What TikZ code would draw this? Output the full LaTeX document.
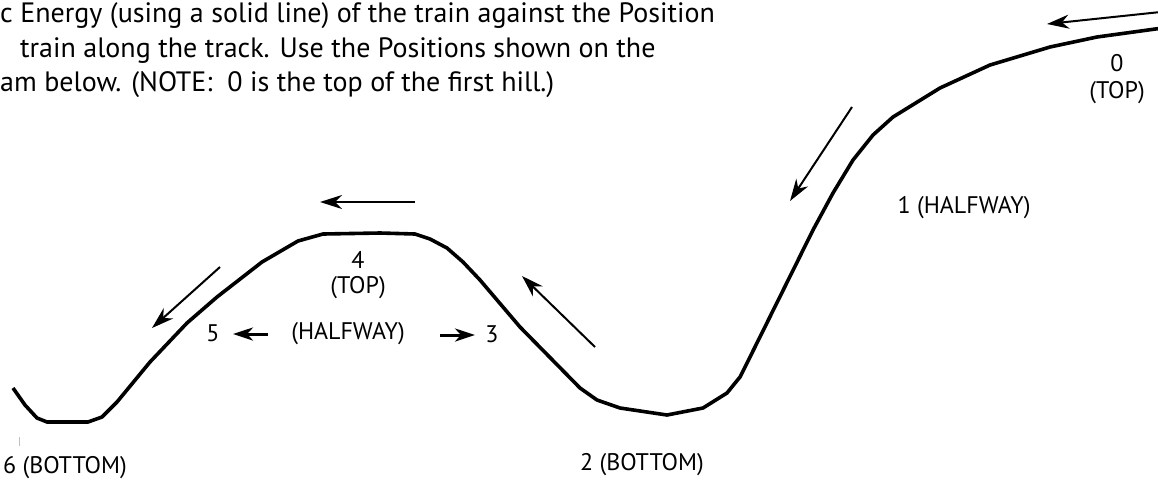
\documentclass[tikz,border=0pt]{standalone}
\usepackage{fontspec}
\setmainfont{PT Sans}
\usetikzlibrary{arrows.meta}
\begin{document}
\begin{tikzpicture}[x=1pt,y=-1pt,
  track/.style={line width=3.6pt,line join=round,line cap=butt},
  dirarrow/.style={line width=2pt,-{Stealth[length=22pt,width=14pt,inset=7pt]}},
  halfarrow/.style={line width=3pt,-{Stealth[length=20pt,width=13pt,inset=6pt]}},
  toptext/.style={inner sep=0pt,anchor=base west,font=\fontsize{28}{33}\selectfont},
  lbl/.style={inner sep=0pt,font=\fontsize{24}{28}\selectfont}]
\useasboundingbox (0,0) rectangle (1158,483);
\begin{scope}
\clip (0,0) rectangle (1158,483);
% instruction text
\node[toptext] (t1) at (0,22) {c Energy (using a solid line) of the train against the Position};
\node[toptext] (t2) at (20,57) {train along the track. Use the Positions shown on the};
\node[toptext] (t3) at (0,91) {am below. (NOTE:\ \ 0 is the top of the first hill.)};
% track
\draw[track] (13,388) -- (25,405) -- (37,418) -- (47,422) -- (88,422) -- (102,417) -- (117,402)
  -- (150,362) -- (187,323) -- (217,297) -- (262,262) -- (298,241) -- (323,234) -- (380,233)
  -- (415,234) -- (430,239) -- (447,248) -- (463,262) -- (480,280) -- (520,327) -- (580,388)
  -- (597,400) -- (620,408) -- (667,415) -- (703,408) -- (727,393) -- (740,377) -- (752,353)
  -- (813,230) -- (833,193) -- (853,160) -- (873,135) -- (893,117) -- (940,88) -- (990,65)
  -- (1050,47) -- (1097,37) -- (1170,27);
% direction arrows
\coordinate (a0s) at (1170,11); \coordinate (a0e) at (1047,24);
\coordinate (a1s) at (852,107); \coordinate (a1e) at (790,201);
\coordinate (a4s) at (415,202); \coordinate (a4e) at (320,202);
\coordinate (a3s) at (595,347); \coordinate (a3e) at (522,276);
\coordinate (a5s) at (220,267); \coordinate (a5e) at (152,328);
\draw[dirarrow] (a0s) -- (a0e);
\draw[dirarrow] (a1s) -- (a1e);
\draw[dirarrow] (a4s) -- (a4e);
\draw[dirarrow] (a3s) -- (a3e);
\draw[dirarrow] (a5s) -- (a5e);
% labels
\node[lbl] (p0) at (1117,63) {0};
\node[lbl] (p0t) at (1117,93) {(TOP)};
\node[lbl] (p1) at (964,208) {1 (HALFWAY)};
\node[lbl] (p4) at (358,260) {4};
\node[lbl] (p4t) at (358,288) {(TOP)};
\node[lbl] (hw) at (348,334) {(HALFWAY)};
\node[lbl] (p5) at (213,333) {5};
\node[lbl] (p3) at (492,334) {3};
\node[lbl] (p2) at (642,465) {2 (BOTTOM)};
\node[lbl] (p6) at (65,468) {6 (BOTTOM)};
\coordinate (h5) at (233,334); \coordinate (h5s) at (268,334);
\coordinate (h3) at (475,335); \coordinate (h3s) at (440,335);
\draw[halfarrow] (h5s) -- (h5);
\draw[halfarrow] (h3s) -- (h3);
% faint tick
\draw[gray!50,line width=0.6pt] (19,437) -- (19,446);
\end{scope}
\end{tikzpicture}
\end{document}
